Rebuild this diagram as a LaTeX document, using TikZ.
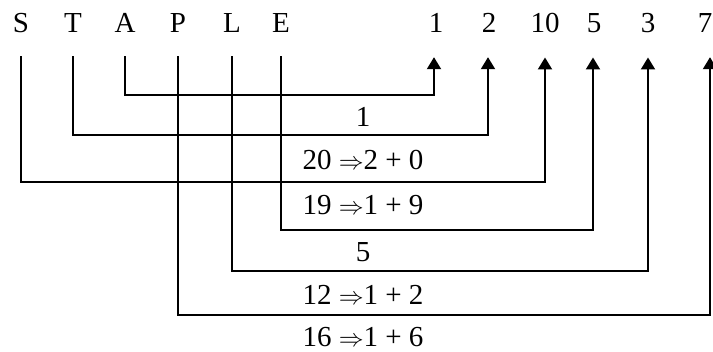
\documentclass[tikz,border=0pt]{standalone}
\usepackage{fontspec}
\setmainfont{Liberation Serif}
\usepackage{tikz}
\usetikzlibrary{arrows.meta}

\begin{document}
\begin{tikzpicture}[x=1pt,y=-1pt,
        every node/.style={font=\fontsize{29}{32}\selectfont,inner sep=0pt,anchor=base},
        wire/.style={line width=2pt,shorten <=23pt},
        wirearr/.style={wire,-{Triangle[length=12pt,width=14pt]},shorten >=24pt},
      ]
      \useasboundingbox (0,0) rectangle (713,352);
      % word
      \node (S) at (21,33) {S};
      \node (T) at (73,33) {T};
      \node (A) at (125,33) {A};
      \node (P) at (178,33) {P};
      \node (L) at (232,33) {L};
      \node (E) at (281,33) {E};
      % values
      \node (n1) at (436,33) {1};
      \node (n2) at (489,33) {2};
      \node (n10) at (545,33) {10};
      \node (n5) at (594,33) {5};
      \node (n3) at (648,33) {3};
      \node (n7) at (705,33) {7};
      % levels
      \coordinate (hA) at (0,95);
      \coordinate (hT) at (0,135);
      \coordinate (hS) at (0,182);
      \coordinate (hE) at (0,230);
      \coordinate (hL) at (0,271);
      \coordinate (hP) at (0,315);
      \draw[wirearr] (A.south) -- (A.south |- hA) -| ([xshift=-2pt]n1.south);
      \draw[wirearr] (T.south) -- (T.south |- hT) -| ([xshift=-1pt]n2.south);
      \draw[wirearr] (S.south) -- (S.south |- hS) -| (n10.south);
      \draw[wirearr] (E.south) -- (E.south |- hE) -| ([xshift=-1pt]n5.south);
      \draw[wirearr] (L.south) -- (L.south |- hL) -| (n3.south);
      \draw[wirearr] (P.south) -- (P.south |- hP) -| ([xshift=5pt]n7.south);
      % sums
      \node (sA) at (363,127) {1};
      \node (sT) at (363,170) {20 $\Rightarrow$2 + 0};
      \node (sS) at (363,215) {19 $\Rightarrow$1 + 9};
      \node (sE) at (363,262) {5};
      \node (sL) at (363,305) {12 $\Rightarrow$1 + 2};
      \node (sP) at (363,347) {16 $\Rightarrow$1 + 6};
    \end{tikzpicture}
\end{document}
